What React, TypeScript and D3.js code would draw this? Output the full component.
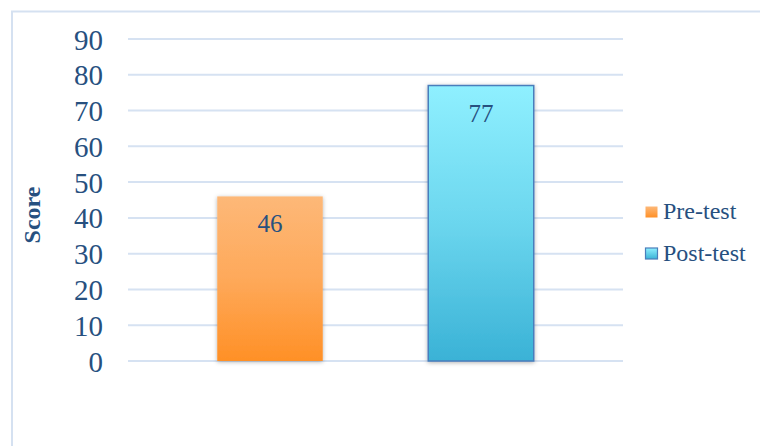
import React from "react";
import * as d3 from "d3";

const categories = ["Pre-test", "Post-test"];
const scores = [46, 77];
const yTicks = [0, 10, 20, 30, 40, 50, 60, 70, 80, 90];

const W = 760, H = 446;

export default function App() {
  const y = d3.scaleLinear().domain([0, 90]).range([361, 39]);
  const x = d3.scaleBand<string>().domain(categories).range([164.5, 586.5]).paddingInner(0.5).paddingOuter(0.25);
  const fills = ["url(#gOrange)", "url(#gBlue)"];
  const strokes = ["none", "#4a7ebb"];
  const swatchFill = ["url(#gOrangeS)", "url(#gBlueS)"];
  return (
    <svg width={W} height={H} style={{ position: "absolute", left: 0, top: 0 }} fontFamily="'Liberation Serif', 'Times New Roman', serif">
      <defs>
        <linearGradient id="gOrange" x1="0" y1="0" x2="0" y2="1">
          <stop offset="0" stopColor="#fdb878" />
          <stop offset="0.5" stopColor="#fea95a" />
          <stop offset="1" stopColor="#ff9026" />
        </linearGradient>
        <linearGradient id="gBlue" x1="0" y1="0" x2="0" y2="1">
          <stop offset="0" stopColor="#8ff0ff" />
          <stop offset="0.5" stopColor="#6bd6ee" />
          <stop offset="1" stopColor="#3ab2d6" />
        </linearGradient>
        <linearGradient id="gOrangeS" x1="0" y1="0" x2="0" y2="1">
          <stop offset="0" stopColor="#fdb878" />
          <stop offset="1" stopColor="#ff9026" />
        </linearGradient>
        <linearGradient id="gBlueS" x1="0" y1="0" x2="0" y2="1">
          <stop offset="0" stopColor="#8ff0ff" />
          <stop offset="1" stopColor="#3ab2d6" />
        </linearGradient>
        <filter id="shadow" x="-20%" y="-10%" width="140%" height="120%">
          <feDropShadow dx="0" dy="1" stdDeviation="2" floodColor="#000" floodOpacity="0.3" />
        </filter>
      </defs>
      <rect x={0} y={0} width={W} height={H} fill="#fff" />
      <rect x={12} y={11.5} width={W + 10} height={H} fill="none" stroke="#d5e1f1" strokeWidth={2} />
      {yTicks.map((t) => (
        <g key={t}>
          <line x1={128} x2={623} y1={y(t)} y2={y(t)} stroke="#d6e2f2" strokeWidth={2} />
          <text x={103} y={y(t) + 10.5} textAnchor="end" fontSize={29} fill="#27507f">{t}</text>
        </g>
      ))}
      {categories.map((c, i) => (
        <g key={c}>
          <rect x={x(c)} y={y(scores[i])} width={x.bandwidth()} height={y(0) - y(scores[i])}
            fill={fills[i]} stroke={strokes[i]} strokeWidth={1.5} filter="url(#shadow)" />
          <text x={(x(c) as number) + x.bandwidth() / 2} y={y(scores[i]) + 36} textAnchor="middle" fontSize={25} fill="#27507f">{scores[i]}</text>
        </g>
      ))}
      <text transform="translate(40,215) rotate(-90)" textAnchor="middle" fontSize={24} fontWeight="bold" fill="#27507f">Score</text>
      {categories.map((c, i) => (
        <g key={c} transform={`translate(645.5, ${206.5 + i * 41.5})`}>
          <rect x={0} y={0} width={12} height={11} fill={swatchFill[i]} stroke={strokes[i]} strokeWidth={1.2} />
          <text x={17.5} y={12.5} fontSize={24} fill="#27507f">{c}</text>
        </g>
      ))}
    </svg>
  );
}
